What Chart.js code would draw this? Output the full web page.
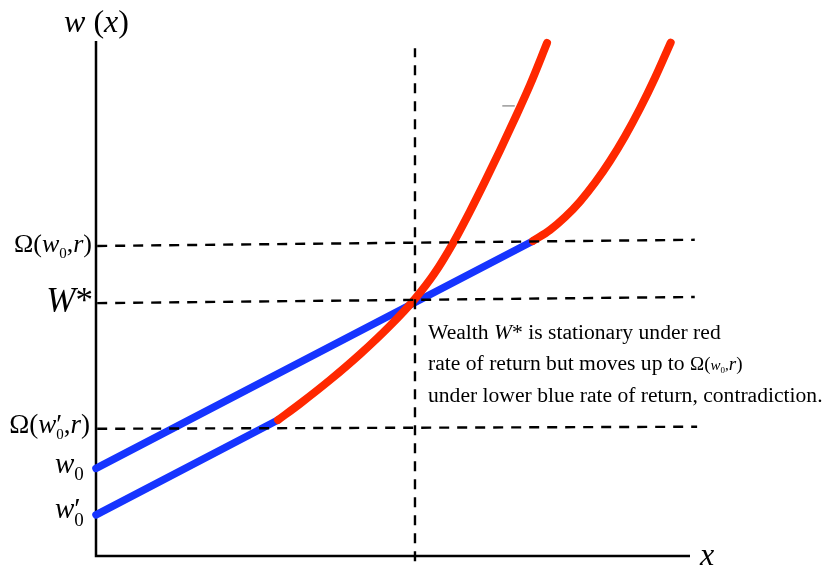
<!DOCTYPE html>
<html>
<head>
<meta charset="utf-8">
<script src="https://cdn.jsdelivr.net/npm/chart.js@4.4.1/dist/chart.umd.min.js"></script>
<style>
  html, body { margin: 0; padding: 0; background: #ffffff; }
  canvas { display: block; }
</style>
</head>
<body>
<canvas id="c" width="824" height="569"></canvas>
<script>
// Wealth dynamics: two linear accumulation paths (blue) and the faster red paths.
const blueUpperX = [0, 73.57];
const blueUpperY = [17.0, 61.17];
const blueLowerX = [0, 30.64];
const blueLowerY = [8.0, 26.41];

const redLowX = [30.64, 34.34, 39.39, 44.44, 49.49, 53.70, 56.90, 60.10, 62.96, 65.49, 68.01, 70.54, 73.06, 75.93];
const redLowY = [26.41, 29.57, 34.17, 39.18, 44.72, 49.94, 54.74, 60.74, 66.93, 72.74, 78.76, 84.99, 91.46, 99.61];
const redHighX = [73.57, 76.43, 78.96, 81.48, 84.01, 86.53, 89.06, 91.58, 94.11, 96.75];
const redHighY = [61.17, 63.30, 65.79, 68.83, 72.49, 76.70, 81.51, 86.89, 92.87, 99.70];

// reference levels (left end, right end) and their horizontal extent
const guideX = [0.2, 100.8];
const omegaLevel = [60.2, 61.4];
const wStarLevel = [49.1, 50.3];
const omegaPrimeLevel = [24.7, 25.1];
const omegaPrimeX = [0.2, 101.2];
const wStarX = 53.7;
const wStarSpan = [-1.0, 98.6];

// small stray stroke
const strokeX = [68.4, 70.5];
const strokeY = [87.4, 87.4];

const pts = (xs, ys) => xs.map((x, i) => ({ x: x, y: ys[i] }));

const BLUE = 'rgb(22, 52, 255)';
const RED = 'rgb(255, 40, 0)';
const SERIF = "'Liberation Serif', 'Times New Roman', serif";

const dashed = (data) => ({
  data: data, borderColor: '#000', borderWidth: 2.4, borderDash: [10, 8],
  pointRadius: 0, showLine: true, clip: false, order: 0, tension: 0
});

// draw a row of text pieces with their own size, style and vertical shift
function drawRuns(ctx, x, y, runs, align) {
  const fontOf = r => (r.i ? 'italic ' : '') + r.s + 'px ' + SERIF;
  let total = 0, last = 0;
  const widths = runs.map(r => { ctx.font = fontOf(r); return ctx.measureText(r.t).width; });
  runs.forEach((r, k) => {
    if (r.over) { const add = Math.max(0, widths[k] - last); total += add; last = Math.max(last, widths[k]); }
    else { total += widths[k]; last = widths[k]; }
  });
  let cx = align === 'right' ? x - total : align === 'center' ? x - total / 2 : x;
  let prevStart = cx;
  ctx.textAlign = 'left';
  ctx.textBaseline = 'alphabetic';
  ctx.fillStyle = '#000';
  runs.forEach((r, k) => {
    ctx.font = fontOf(r);
    if (r.over) {
      ctx.fillText(r.t, prevStart, y + (r.dy || 0));
      cx = Math.max(cx, prevStart + widths[k]);
    } else {
      prevStart = cx;
      ctx.fillText(r.t, cx, y + (r.dy || 0));
      cx += widths[k];
    }
  });
}

const labelPlugin = {
  id: 'labels',
  afterDraw(chart) {
    const ctx = chart.ctx;
    ctx.save();
    // axis titles
    drawRuns(ctx, 96.5, 32, [
      { t: 'w', s: 32, i: true }, { t: ' (', s: 32 }, { t: 'x', s: 32, i: true }, { t: ')', s: 32 }
    ], 'center');
    drawRuns(ctx, 700, 565, [{ t: 'x', s: 32, i: true }], 'left');

    // level labels on the vertical axis
    drawRuns(ctx, 92, 252, [
      { t: 'Ω(', s: 26 }, { t: 'w', s: 26, i: true }, { t: '0', s: 15, dy: 6 },
      { t: ',', s: 26 }, { t: 'r', s: 26, i: true }, { t: ')', s: 26 }
    ], 'right');
    drawRuns(ctx, 93, 312, [{ t: 'W', s: 35, i: true }, { t: '*', s: 35 }], 'right');
    drawRuns(ctx, 90, 433, [
      { t: 'Ω(', s: 27 }, { t: 'w', s: 27, i: true }, { t: '′', s: 27 },
      { t: '0', s: 15, dy: 6, over: true },
      { t: ',', s: 27 }, { t: 'r', s: 27, i: true }, { t: ')', s: 27 }
    ], 'right');
    drawRuns(ctx, 55, 473, [{ t: 'w', s: 29, i: true }, { t: '0', s: 19, dy: 7 }], 'left');
    drawRuns(ctx, 55, 518, [
      { t: 'w', s: 29, i: true }, { t: '′', s: 29 }, { t: '0', s: 19, dy: 8, over: true }
    ], 'left');

    // explanatory note
    drawRuns(ctx, 428, 338.5, [
      { t: 'Wealth ', s: 21.6 }, { t: 'W', s: 21.6, i: true }, { t: '* is stationary under red', s: 21.6 }
    ], 'left');
    drawRuns(ctx, 428, 370, [
      { t: 'rate of return but moves up to ', s: 21.6 }, { t: 'Ω(', s: 19 },
      { t: 'w', s: 15, i: true }, { t: '0', s: 9, dy: 3 }, { t: ',', s: 15 },
      { t: 'r', s: 19, i: true }, { t: ')', s: 19 }
    ], 'left');
    drawRuns(ctx, 428, 401.5, [
      { t: 'under lower blue rate of return, contradiction.', s: 21.6 }
    ], 'left');
    ctx.restore();
  }
};

new Chart(document.getElementById('c'), {
  type: 'scatter',
  data: {
    datasets: [
      dashed(pts(guideX, omegaLevel)),
      dashed(pts(guideX, wStarLevel)),
      dashed(pts(omegaPrimeX, omegaPrimeLevel)),
      dashed([{ x: wStarX, y: wStarSpan[0] }, { x: wStarX, y: wStarSpan[1] }]),
      {
        data: pts(redLowX, redLowY), borderColor: RED, borderWidth: 8, borderCapStyle: 'round',
        borderJoinStyle: 'round', pointRadius: 0, showLine: true, clip: false, order: 1,
        cubicInterpolationMode: 'monotone'
      },
      {
        data: pts(redHighX, redHighY), borderColor: RED, borderWidth: 8, borderCapStyle: 'round',
        borderJoinStyle: 'round', pointRadius: 0, showLine: true, clip: false, order: 1,
        cubicInterpolationMode: 'monotone'
      },
      {
        data: pts(blueUpperX, blueUpperY), borderColor: BLUE, borderWidth: 7.5, borderCapStyle: 'round',
        pointRadius: 0, showLine: true, clip: false, order: 2
      },
      {
        data: pts(blueLowerX, blueLowerY), borderColor: BLUE, borderWidth: 7.5, borderCapStyle: 'round',
        pointRadius: 0, showLine: true, clip: false, order: 2
      },
      {
        data: pts(strokeX, strokeY), borderColor: '#999', borderWidth: 1.5,
        pointRadius: 0, showLine: true, clip: false, order: 2
      },
      {
        // axes
        data: [{ x: 0, y: 100 }, { x: 0, y: 0 }, { x: 100, y: 0 }], borderColor: '#000', borderWidth: 2.5,
        borderCapStyle: 'butt', borderJoinStyle: 'miter', pointRadius: 0, showLine: true, clip: false, order: 3
      }
    ]
  },
  options: {
    responsive: false,
    animation: false,
    devicePixelRatio: 1,
    layout: { padding: { left: 96, top: 41, right: 134, bottom: 13 } },
    scales: {
      x: { type: 'linear', min: 0, max: 100, display: false },
      y: { type: 'linear', min: 0, max: 100, display: false }
    },
    plugins: { legend: { display: false }, tooltip: { enabled: false } },
    events: []
  },
  plugins: [labelPlugin]
});
</script>
</body>
</html>
